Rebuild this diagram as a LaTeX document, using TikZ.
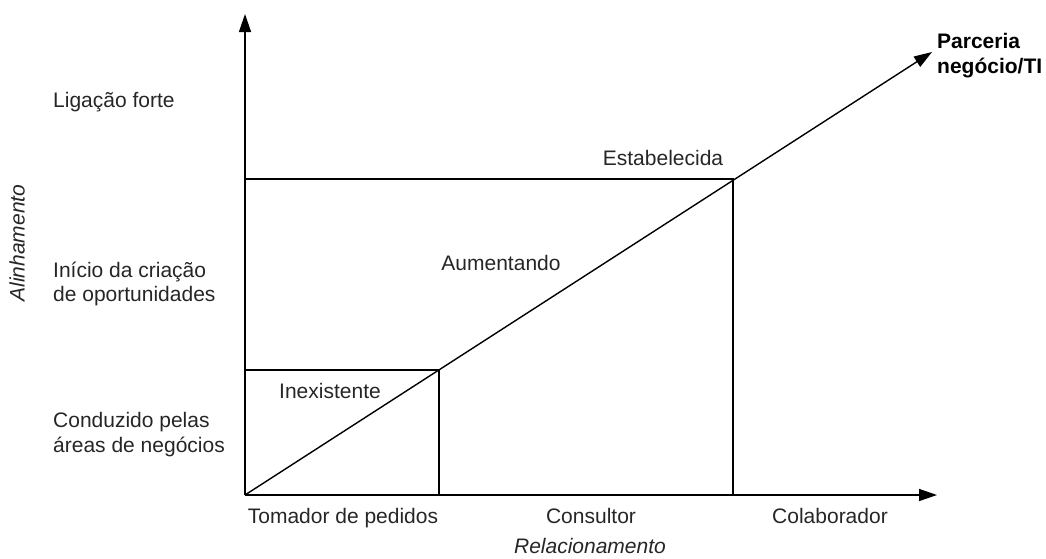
\documentclass[tikz,border=0pt]{standalone}
\usepackage{fontspec}
\setmainfont{Liberation Sans}
\usetikzlibrary{arrows.meta}
\begin{document}
\begin{tikzpicture}[x=1pt,y=-1pt,
  lbl/.style={inner sep=0pt,font=\fontsize{21}{25}\selectfont,text=black!85},
  axis/.style={line width=1.4pt,-{Triangle[length=18pt,width=12pt]}},
  thin/.style={line width=1.1pt}]
\useasboundingbox (0,0) rectangle (1046,558);
\coordinate (O) at (245,495);
\coordinate (ytip) at (245,14);
\coordinate (xtip) at (937,495);
\coordinate (dtip) at (932,52);
\coordinate (A) at (439,370);
\coordinate (a0) at (245,370);
\coordinate (a1) at (439,495);
\coordinate (B) at (733,179);
\coordinate (b0) at (245,179);
\coordinate (b1) at (733,495);
\draw[axis] (O) -- (ytip);
\draw[axis] (O) -- (xtip);
\draw[axis] (O) -- (dtip);
\draw[thin] (a0) -- (A) -- (a1);
\draw[thin] (b0) -- (B) -- (b1);
% labels
\node[lbl,anchor=base west,font=\fontsize{21}{25}\selectfont\bfseries,text=black] (parc) at (937,48) {Parceria};
\node[lbl,anchor=base west,font=\fontsize{21}{25}\selectfont\bfseries,text=black] (neg) at (937,73) {negócio/TI};
\node[lbl,anchor=base west] (lig) at (53,107) {Ligação forte};
\node[lbl,anchor=base west] (ini1) at (53,277) {Início da criação};
\node[lbl,anchor=base west] (ini2) at (53,301) {de oportunidades};
\node[lbl,anchor=base west] (con1) at (53,427) {Conduzido pelas};
\node[lbl,anchor=base west] (con2) at (53,452) {áreas de negócios};
\node[lbl,anchor=base] (est) at (663,165) {Estabelecida};
\node[lbl,anchor=base] (aum) at (501,270) {Aumentando};
\node[lbl,anchor=base] (inex) at (330,398) {Inexistente};
\node[lbl,anchor=base] (tom) at (343,523) {Tomador de pedidos};
\node[lbl,anchor=base] (cons) at (591,523) {Consultor};
\node[lbl,anchor=base] (cola) at (830,523) {Colaborador};
\node[lbl,anchor=base,font=\fontsize{21}{25}\selectfont\itshape] (rel) at (590,553) {Relacionamento};
\node[lbl,anchor=center,rotate=90,font=\fontsize{21}{25}\selectfont\itshape] (ali) at (17,243) {Alinhamento};
\end{tikzpicture}
\end{document}
